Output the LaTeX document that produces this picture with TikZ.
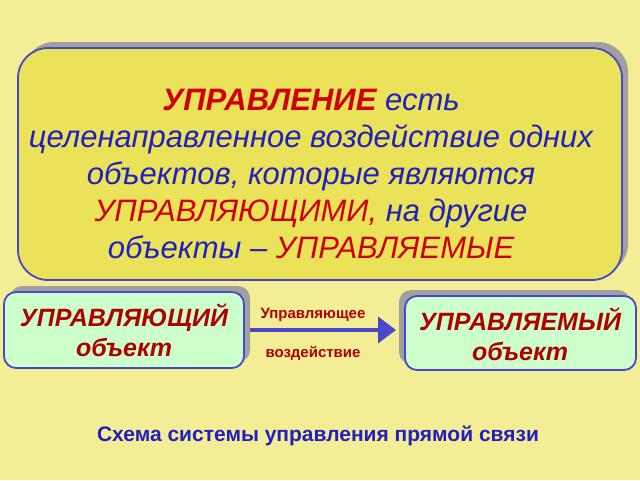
\documentclass[tikz,border=0pt]{standalone}
\usepackage{fontspec}
\setmainfont{Liberation Sans}
\usetikzlibrary{arrows.meta}
\definecolor{bg}{HTML}{F3EE95}
\definecolor{ybox}{HTML}{EAE35A}
\definecolor{gbox}{HTML}{CCFFCC}
\definecolor{bord}{HTML}{4848CC}
\definecolor{dred}{HTML}{B00000}
\definecolor{rd}{HTML}{D00000}
\definecolor{bl}{HTML}{2020C0}
\definecolor{shad}{HTML}{A0A0A0}
\tikzset{
 bx/.style={draw=bord,line width=1.8pt,rounded corners=12pt},
 sh/.style={fill=shad,rounded corners=12pt},
 obj/.style={text=dred,font=\bfseries\itshape\fontsize{25}{30}\selectfont,align=center}
}
\begin{document}
\begin{tikzpicture}[x=1pt,y=-1pt]
\useasboundingbox (0,0) rectangle (640,480);
\fill[bg] (0,0) rectangle (640,480);
% top box
\fill[sh,rounded corners=30pt] (24,42) rectangle (628,274);
\draw[bx,fill=ybox,rounded corners=30pt] (18,48) rectangle (622,280);
\node[align=center,font=\itshape\fontsize{31}{37}\selectfont,text=bl] (t) at (311,174) {%
{\color{rd}\bfseries УПРАВЛЕНИЕ} есть\\
целенаправленное воздействие одних\\
объектов, которые являются\\
{\color{rd}УПРАВЛЯЮЩИМИ,} на другие\\
объекты – {\color{rd}УПРАВЛЯЕМЫЕ}};
% left
\fill[sh] (10,286) rectangle (250,362);
\draw[bx,fill=gbox] (4,292) rectangle (244,368);
\node[obj] (a) at (124,330) {УПРАВЛЯЮЩИЙ\\объект};
% right
\fill[sh] (399,290) rectangle (630,364);
\draw[bx,fill=gbox] (405,296) rectangle (636,370);
\node[obj] (b) at (520,334) {УПРАВЛЯЕМЫЙ\\объект};
\coordinate (s) at (250,330);
\coordinate (e) at (396,330);
\draw[bord,line width=4pt,-{Triangle[length=18pt,width=26pt]}] (s) -- (e);
\node[text=dred,font=\bfseries\fontsize{15}{17}\selectfont] (u) at (313,315) {Управляющее};
\node[text=dred,font=\bfseries\fontsize{15}{17}\selectfont] (v) at (313,353) {воздействие};
\node[text=bl,font=\bfseries\fontsize{21}{24}\selectfont] (c) at (318,436) {Схема системы управления прямой связи};
\end{tikzpicture}
\end{document}
